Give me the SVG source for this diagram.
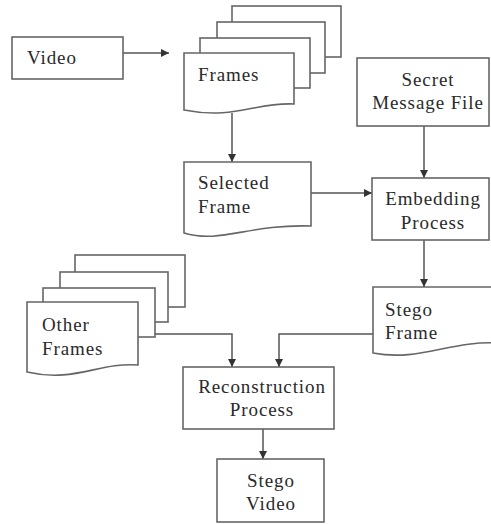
<svg xmlns="http://www.w3.org/2000/svg" width="491" height="524" viewBox="0 0 491 524">
  <defs>
    <marker id="arrow" viewBox="0 0 10 10" refX="10" refY="5" markerWidth="9" markerHeight="8" markerUnits="userSpaceOnUse" orient="auto">
      <path d="M0,0 L10,5 L0,10 Z" fill="#333"/>
    </marker>
    <style>
      .box { fill: #fff; stroke: #666; stroke-width: 1.6; }
      .edge { fill: none; stroke: #555; stroke-width: 1.5; marker-end: url(#arrow); }
      text { font-family: "Liberation Serif", "Times New Roman", serif; font-size: 19px; fill: #2a2a2a; letter-spacing: 0.9px; }
      .c { text-anchor: middle; }
    </style>
  </defs>
  <rect width="491" height="524" fill="#fff"/>

  <!-- connectors -->
  <g id="connectors">
    <line class="edge" x1="123" y1="53" x2="169" y2="53"/>
    <line class="edge" x1="232" y1="113" x2="232" y2="162"/>
    <line class="edge" x1="424" y1="126" x2="424" y2="178"/>
    <line class="edge" x1="311" y1="193" x2="372" y2="193"/>
    <line class="edge" x1="424" y1="240" x2="424" y2="287"/>
    <polyline class="edge" points="373,334 279,334 279,367"/>
    <polyline class="edge" points="155,334 232,334 232,367"/>
    <line class="edge" x1="263" y1="429" x2="263" y2="459"/>
  </g>

  <!-- Video -->
  <g id="video">
    <rect class="box" x="12" y="37" width="111" height="42"/>
    <text x="27" y="64">Video</text>
  </g>

  <!-- Frames (stacked documents) -->
  <g id="frames">
    <rect class="box" x="232" y="6" width="109" height="51"/>
    <rect class="box" x="217" y="22" width="108" height="51"/>
    <rect class="box" x="200" y="38" width="110" height="50"/>
    <path class="box" d="M184,53 H294 V104 C255,102 235,120 184,110 Z"/>
    <text x="198" y="81">Frames</text>
  </g>

  <!-- Secret Message File -->
  <g id="secret">
    <rect class="box" x="357" y="58" width="132" height="68"/>
    <text class="c" x="428" y="86">Secret</text>
    <text class="c" x="428" y="109">Message File</text>
  </g>

  <!-- Selected Frame -->
  <g id="selected">
    <path class="box" d="M184,162 H311 V226 C247,224 222,244 184,233 Z"/>
    <text x="198" y="189">Selected</text>
    <text x="198" y="213">Frame</text>
  </g>

  <!-- Embedding Process -->
  <g id="embedding">
    <rect class="box" x="372" y="178" width="117" height="62"/>
    <text class="c" x="433" y="205">Embedding</text>
    <text class="c" x="433" y="229">Process</text>
  </g>

  <!-- Stego Frame -->
  <g id="stego-frame">
    <path class="box" d="M373,287 H500 V343 C450,340 420,362 373,353 Z"/>
    <text x="385" y="316">Stego</text>
    <text x="385" y="339">Frame</text>
  </g>

  <!-- Other Frames (stacked documents) -->
  <g id="other-frames">
    <rect class="box" x="75" y="255" width="110" height="52"/>
    <rect class="box" x="60" y="272" width="108" height="50"/>
    <rect class="box" x="43" y="288" width="112" height="49"/>
    <path class="box" d="M27,302 H138 V365 C99,362 74,383 27,372 Z"/>
    <text x="42" y="331">Other</text>
    <text x="42" y="355">Frames</text>
  </g>

  <!-- Reconstruction Process -->
  <g id="reconstruction">
    <rect class="box" x="183" y="367" width="151" height="62"/>
    <text class="c" x="262" y="393">Reconstruction</text>
    <text class="c" x="262" y="416">Process</text>
  </g>

  <!-- Stego Video -->
  <g id="stego-video">
    <rect class="box" x="217" y="459" width="107" height="63"/>
    <text class="c" x="271" y="487">Stego</text>
    <text class="c" x="271" y="510">Video</text>
  </g>
</svg>
